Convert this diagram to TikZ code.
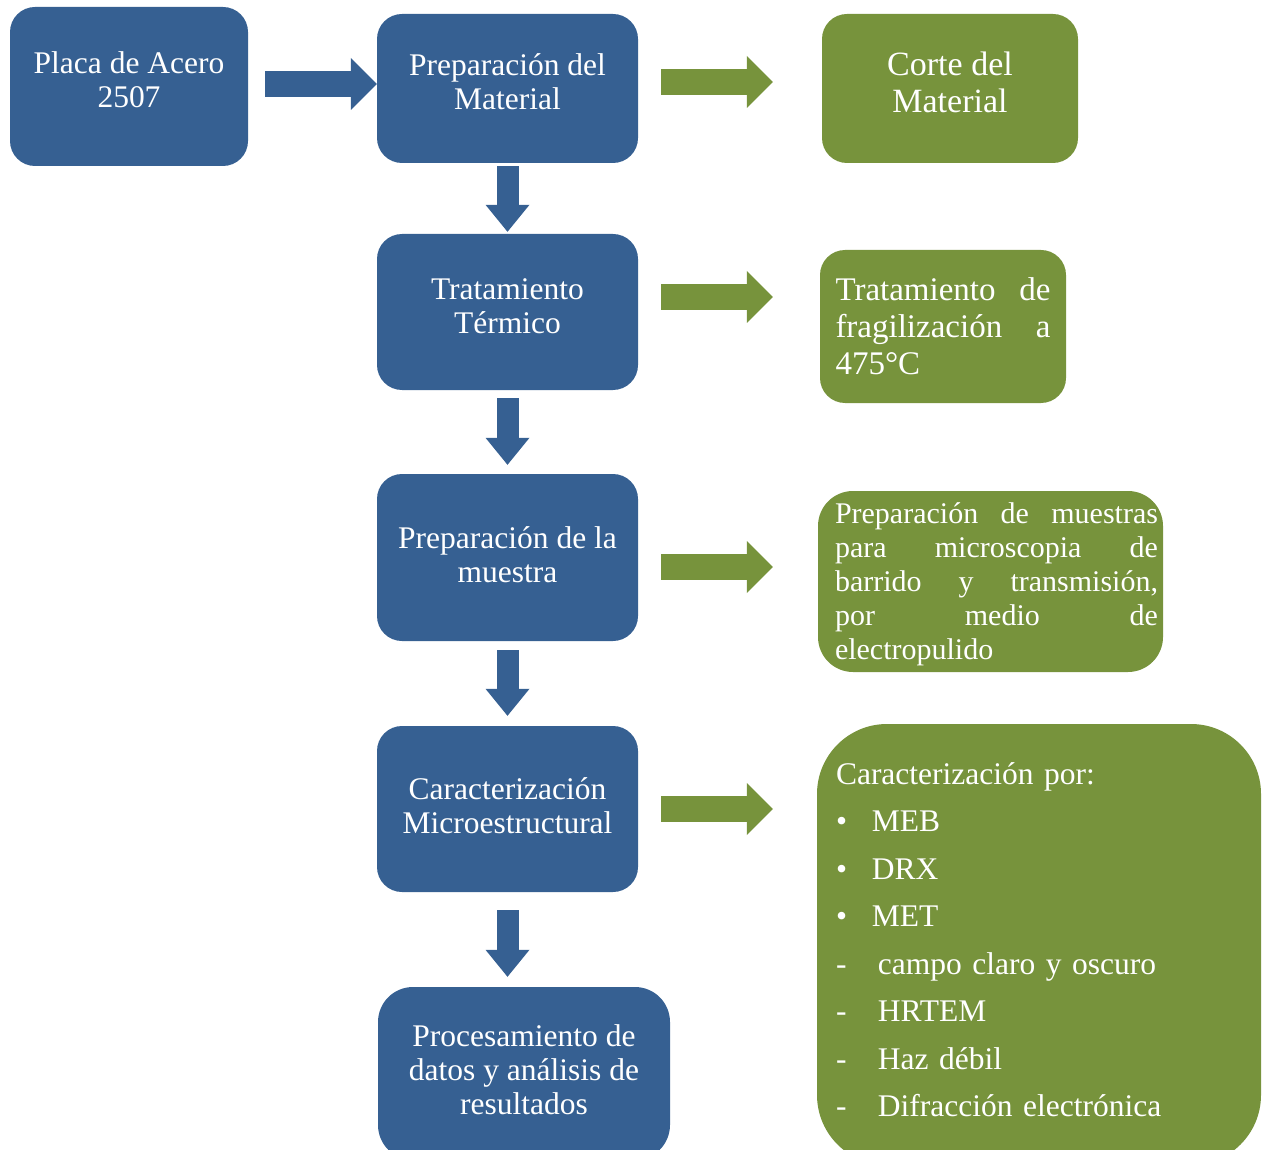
\documentclass[tikz,border=0pt]{standalone}
\usepackage{fontspec}
\setmainfont{Liberation Serif}
\usetikzlibrary{arrows.meta}
\definecolor{boxblue}{HTML}{366092}
\definecolor{boxgreen}{HTML}{77933C}
\tikzstyle{bluebox} = [fill=boxblue,text=white,rounded corners=25pt,align=center,inner sep=0,font=\fontsize{31.5}{34}\selectfont]
\tikzstyle{greenbox} = [fill=boxgreen,text=white,rounded corners=25pt,inner sep=0]
\tikzstyle{harrow} = [line width=26pt,-{Triangle[length=26pt,width=52pt,line width=0pt]}]
\tikzstyle{varrow} = [draw=boxblue,line width=22pt,-{Triangle[length=27pt,width=44pt,line width=0pt]}]

\begin{document}
\begin{tikzpicture}[x=1pt,y=-1pt]
    \useasboundingbox (0,0) rectangle (1264,1150);
    % left column
    \node [bluebox,minimum width=238pt,minimum height=159pt,text depth=14pt] (placa) at (129,86.5) {Placa de Acero\\2507};
    \node [bluebox,minimum width=261pt,minimum height=149pt,text depth=14pt] (prepmat) at (507.5,88.5) {Preparación del\\Material};
    \node [bluebox,minimum width=261pt,minimum height=156pt,text depth=12pt] (termico) at (507.5,312) {Tratamiento\\Térmico};
    \node [bluebox,minimum width=261pt,minimum height=167pt,text depth=6pt] (prepmue) at (507.5,557.5) {Preparación de la\\muestra};
    \node [bluebox,minimum width=261pt,minimum height=166pt,text depth=6pt] (caracmic) at (507.5,809) {Caracterización\\Microestructural};
    \node [bluebox,rounded corners=35pt,minimum width=292pt,minimum height=173pt,text depth=8pt] (proces) at (524,1073.5) {Procesamiento de\\datos y análisis de\\resultados};
    % right column
    \node [greenbox,align=center,minimum width=256pt,minimum height=149pt,text depth=12pt,font=\fontsize{34}{37}\selectfont] (corte) at (950,88.5) {Corte del\\Material};
    \node [greenbox,align=left,text width=215pt,minimum width=246pt,minimum height=153pt,font=\fontsize{33}{37}\selectfont] (fragil) at (943,326.5)
      {Tratamiento\hfill de\\fragilización\hfill a\\475°C};
    \node [greenbox,rounded corners=35pt,align=left,text width=335pt,minimum width=345pt,minimum height=181pt,text depth=136.5pt,font=\fontsize{30}{34}\selectfont] (muestras) at (990.5,581.5)
      {\hspace*{12pt}Preparación\hfill de\hfill muestras\\
       \hspace*{12pt}para\hfill microscopia\hfill de\\
       \hspace*{12pt}barrido\hfill y\hfill transmisión,\\
       \hspace*{12pt}por\hfill medio\hfill de\\
       \hspace*{12pt}electropulido};
    \node [greenbox,rounded corners=70pt,align=left,text width=406pt,minimum width=444pt,minimum height=441pt,text depth=342.5pt,font=\fontsize{31.5}{47.5}\selectfont] (caracpor) at (1039,944.5)
      {Caracterización por:\\
       \makebox[36pt][l]{\textbullet}MEB\\
       \makebox[36pt][l]{\textbullet}DRX\\
       \makebox[36pt][l]{\textbullet}MET\\
       \makebox[42pt][l]{-}campo claro y oscuro\\
       \makebox[42pt][l]{-}HRTEM\\
       \makebox[42pt][l]{-}Haz débil\\
       \makebox[42pt][l]{-}Difracción electrónica};
    % arrows
    \draw [harrow,boxblue,shorten <=17pt] ([yshift=2.5pt]placa.east) -- ([yshift=2.5pt]placa.east -| prepmat.west);
    \draw [harrow,boxgreen,shorten <=23pt,shorten >=49pt] ([yshift=6.5pt]prepmat.east) -- ([yshift=6.5pt]prepmat.east -| corte.west);
    \draw [harrow,boxgreen,shorten <=23pt,shorten >=47pt] ([yshift=15pt]termico.east) -- ([yshift=15pt]termico.east -| fragil.west);
    \draw [harrow,boxgreen,shorten <=23pt,shorten >=45pt] ([yshift=-9.5pt]prepmue.east) -- ([yshift=-9.5pt]prepmue.east -| muestras.west);
    \draw [harrow,boxgreen,shorten <=23pt,shorten >=44pt] (caracmic.east) -- (caracmic.east -| caracpor.west);
    \draw [varrow,shorten <=3pt,shorten >=2pt] (prepmat) -- (termico);
    \draw [varrow,shorten <=8pt,shorten >=9pt] (termico) -- (prepmue);
    \draw [varrow,shorten <=9pt,shorten >=10pt] (prepmue) -- (caracmic);
    \draw [varrow,shorten <=18pt,shorten >=10pt] (caracmic) -- (caracmic |- proces.north);
\end{tikzpicture}
\end{document}
